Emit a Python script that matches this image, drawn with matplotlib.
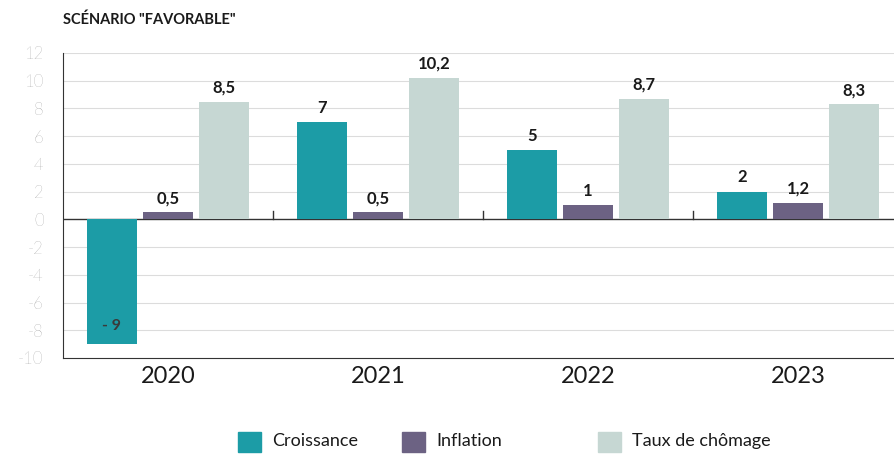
import matplotlib.pyplot as plt
import numpy as np
from matplotlib.patches import Rectangle

plt.rcParams['font.family'] = ['Lato', 'DejaVu Sans']

years = ['2020', '2021', '2022', '2023']
croissance = [-9, 7, 5, 2]
inflation = [0.5, 0.5, 1, 1.2]
chomage = [8.5, 10.2, 8.7, 8.3]
series_names = ['Croissance', 'Inflation', 'Taux de chômage']
colors = ['#1c9ca6', '#6c6283', '#c6d7d3']

fig = plt.figure(figsize=(8.94, 4.55), dpi=100)
ax = fig.add_axes([63 / 894, 1 - 358 / 455, 840 / 894, 305 / 455])

x = np.arange(len(years))
w = 0.238
step = 0.267
for i, (vals, col) in enumerate(zip([croissance, inflation, chomage], colors)):
    xs = x + (i - 1) * step
    ax.bar(xs, vals, width=w, color=col, zorder=3)
    for xi, v in zip(xs, vals):
        lab = f"{v:g}".replace('.', ',')
        if v < 0:
            ax.text(xi, v + 1.3, lab.replace('-', '- '), ha='center', va='center',
                    fontsize=11.5, fontweight='bold', color='#3a3a3a', zorder=4)
        else:
            ax.text(xi, v + 0.45, lab, ha='center', va='bottom',
                    fontsize=12, fontweight='bold', color='#1a1a1a', zorder=4)

ax.set_xlim(-0.5, 3.5)
ax.set_ylim(-10, 12)
ax.set_yticks(range(-10, 13, 2))
ax.set_yticklabels([str(t) for t in range(-10, 13, 2)], fontsize=12,
                   color='#777777', fontweight='light')
for t in range(-8, 13, 2):
    if t != 0:
        ax.axhline(t, color='#dcdcdc', lw=0.8, zorder=1)
ax.axhline(0, color='#333333', lw=1.0, zorder=2)
for b in [0.5, 1.5, 2.5]:
    ax.plot([b, b], [0, 0.6], color='#333333', lw=1.0, zorder=2)

ax.set_xticks(x)
ax.set_xticklabels(years, fontsize=17, color='#1a1a1a')
ax.tick_params(axis='x', length=0, pad=6)
ax.tick_params(axis='y', length=0, pad=14)
for s in ['top', 'right']:
    ax.spines[s].set_visible(False)
ax.spines['left'].set_color('#333333')
ax.spines['bottom'].set_color('#333333')

fig.text(63 / 894, 1 - 20 / 455, 'SCÉNARIO "FAVORABLE"', fontsize=10.5,
         fontweight='bold', color='#1a1a1a', va='center')

# legende
leg_x = [238, 402, 598]
for lx, name, col in zip(leg_x, series_names, colors):
    fig.patches.append(Rectangle((lx / 894, 1 - 452 / 455), 23 / 894, 20 / 455,
                                 transform=fig.transFigure, color=col))
    fig.text((lx + 34) / 894, 1 - 441 / 455, name, fontsize=13,
             color='#1a1a1a', va='center')

fig.savefig('out.png', dpi=100)
